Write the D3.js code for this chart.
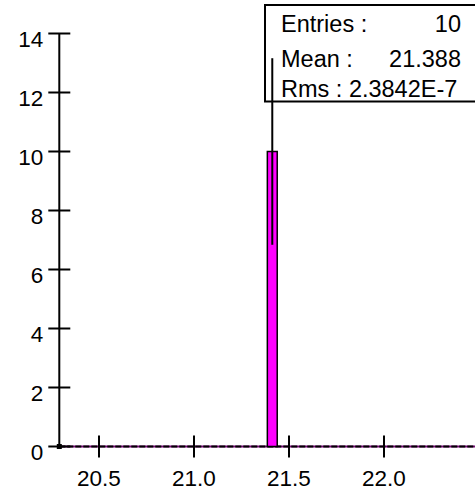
<!DOCTYPE html>
<html><head><meta charset="utf-8">
<script src="https://cdn.jsdelivr.net/npm/d3@7"></script>
<style>body{margin:0;background:#fff}svg{display:block}text{font-family:"Liberation Sans",Arial,sans-serif;fill:#000}</style>
</head><body><div id="c"></div>
<script>
// Data
const binLow = [21.386];
const binHigh = [21.438];
const counts = [10];
const errors = [Math.sqrt(10)];
const xTicks = [20.5, 21.0, 21.5, 22.0];
const yTicks = [0, 2, 4, 6, 8, 10, 12, 14];
const statLabels = ["Entries :", "Mean :", "Rms : 2.3842E-7"];
const statValues = ["10", "21.388", ""];

const W = 475, H = 496;
const svg = d3.select("#c").append("svg").attr("width", W).attr("height", H);

const x = d3.scaleLinear().domain([20.5, 22.0]).range([99, 384]);
const y = d3.scaleLinear().domain([0, 14]).range([446.5, 33.5]);
const x0 = x.invert(59.3), x1 = x.invert(480);

// baseline (empty bins)
svg.append("line").attr("x1", x(x0)).attr("x2", x(x1)).attr("y1", y(0)).attr("y2", y(0))
  .attr("stroke", "#7a0a7a").attr("stroke-width", 2);
svg.append("line").attr("x1", x(x0)).attr("x2", x(x1)).attr("y1", y(0)).attr("y2", y(0))
  .attr("stroke", "#000").attr("stroke-width", 2).attr("stroke-dasharray", "6,2");

// Y axis
const yAxis = svg.append("g").attr("transform", `translate(${x(x0)},0)`);
yAxis.append("line").attr("x1", 0).attr("x2", 0).attr("y1", y(0)).attr("y2", y(14))
  .attr("stroke", "#000").attr("stroke-width", 2);
yTicks.forEach(t => {
  yAxis.append("line").attr("x1", -11).attr("x2", 11).attr("y1", y(t)).attr("y2", y(t))
    .attr("stroke", "#000").attr("stroke-width", 2);
  yAxis.append("text").attr("x", -16).attr("y", y(t) + 13).attr("text-anchor", "end")
    .attr("font-size", 22.5).text(t);
});

// X axis
const xAxis = svg.append("g");
xTicks.forEach(t => {
  xAxis.append("line").attr("x1", x(t)).attr("x2", x(t)).attr("y1", y(0) - 11).attr("y2", y(0) + 11)
    .attr("stroke", "#000").attr("stroke-width", 2);
  xAxis.append("text").attr("x", x(t)).attr("y", 486).attr("text-anchor", "middle")
    .attr("font-size", 22.5).text(d3.format(".1f")(t));
});

// marker at origin
svg.append("rect").attr("x", x(x0) - 2.5).attr("y", y(0) - 2.5).attr("width", 5).attr("height", 5).attr("fill", "#000");

// bars
binLow.forEach((lo, i) => {
  svg.append("rect").attr("x", x(lo)).attr("y", y(counts[i]))
    .attr("width", x(binHigh[i]) - x(lo)).attr("height", y(0) - y(counts[i]))
    .attr("fill", "#ff00ff").attr("stroke", "#000").attr("stroke-width", 1.5);
});

// stats box
svg.append("rect").attr("x", 265).attr("y", 5).attr("width", 230).attr("height", 96.5)
  .attr("fill", "#fff").attr("stroke", "#000").attr("stroke-width", 2);

// error bars (drawn over box)
binLow.forEach((lo, i) => {
  const cx = (x(lo) + x(binHigh[i])) / 2;
  svg.append("line").attr("x1", cx).attr("x2", cx)
    .attr("y1", y(counts[i] - errors[i])).attr("y2", y(counts[i] + errors[i]))
    .attr("stroke", "#000").attr("stroke-width", 2);
});

const rowY = [32, 66.5, 96.5];
statLabels.forEach((s, i) => {
  svg.append("text").attr("x", 281).attr("y", rowY[i]).attr("font-size", 23.5).text(s);
  if (statValues[i]) svg.append("text").attr("x", 461).attr("y", rowY[i]).attr("text-anchor", "end")
    .attr("font-size", 23.5).text(statValues[i]);
});
</script></body></html>
